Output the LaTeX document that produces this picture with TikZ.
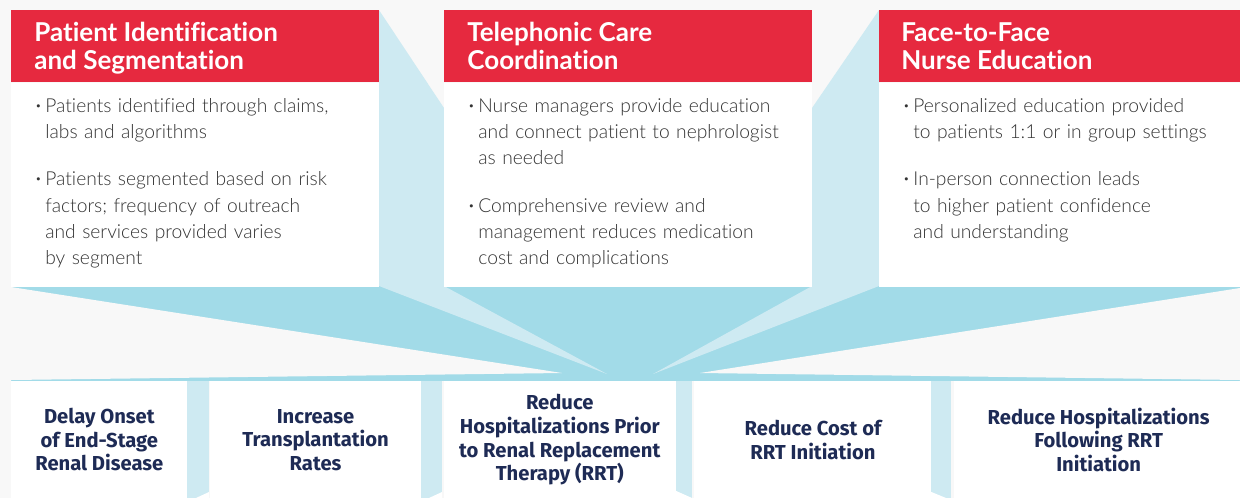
\documentclass[tikz,border=0pt]{standalone}
\usepackage{fontspec}
\usepackage{graphicx}
\setmainfont{Lato}[Ligatures=NoCommon]
\newfontfamily\bodyfont{Lato Light}[Ligatures=NoCommon]
\newfontfamily\goalfont{Fira Sans}
\usetikzlibrary{positioning}

\definecolor{pagebg}{HTML}{F8F8F8}
\definecolor{headred}{HTML}{E6293F}
\definecolor{fanblue}{HTML}{A2DBE8}
\definecolor{paleblue}{HTML}{CEEAF2}
\definecolor{navy}{HTML}{1E2B55}
\definecolor{bodygray}{HTML}{333333}

% one pixel of the layout grid
\newlength{\unitpx}
\setlength{\unitpx}{0.2mm}

% bullet item, wrapped lines kept under the text
\newcommand{\bul}[1]{\noindent
  \makebox[10\unitpx][l]{\raisebox{0.3ex}{\scalebox{0.55}{\textbullet}}}%
  \parbox[t]{330\unitpx}{#1\strut}\par\prevdepth=\dp\strutbox}

\begin{document}
\begin{tikzpicture}[x=\unitpx,y=-\unitpx,
    headbar/.style={fill=headred,anchor=north west,inner sep=0pt,
      minimum height=72\unitpx},
    headtext/.style={anchor=base west,inner sep=0pt,text=white,align=left,
      font=\fontsize{14.8pt}{15.4pt}\selectfont\bfseries},
    bodybox/.style={fill=white,inner sep=0pt,minimum height=204\unitpx},
    bullets/.style={anchor=base west,inner sep=0pt,text=bodygray,align=left,
      text width=345\unitpx,font=\bodyfont\fontsize{10.95pt}{15pt}\selectfont},
    goalbox/.style={fill=white,inner sep=0pt,minimum height=117\unitpx,
      text=navy,align=center,
      font=\goalfont\bfseries\fontsize{11.5pt}{13.4pt}\selectfont},
    fan/.style={fill=fanblue},
    pale/.style={fill=paleblue}]

  \useasboundingbox (0,0) rectangle (1240,498);
  \fill[pagebg] (0,0) rectangle (1240,498);

  % pale gaps between the top boxes
  \fill[pale] (379,10) -- (444,108) -- (444,286) -- (379,286) -- cycle;
  \fill[pale] (879,10) -- (812,108) -- (812,286) -- (879,286) -- cycle;

  % the fan that gathers the three boxes
  \fill[fan] (11,286) -- (1240,286) -- (1240,381) -- (11,381) -- cycle;
  \fill[pagebg] (11,287) -- (562,373) -- (11,380) -- cycle;
  \fill[pagebg] (1240,288) -- (700,373) -- (1240,380) -- cycle;
  \fill[pale] (379,286) -- (444,286) -- (607,374) -- cycle;
  \fill[pale] (812,286) -- (879,286) -- (653,374) -- cycle;

  % pale strips between the goals
  \foreach \xa/\xb in {187/209,420/442,674/692,929/951}
    \fill[pale] (\xa,381) rectangle (\xb,498);
  \fill[white] (209,492) -- (209,498) -- (196,498) -- cycle;
  \fill[white] (442,492) -- (442,498) -- (429,498) -- cycle;
  \fill[white] (674,490) -- (674,498) -- (692,498) -- cycle;
  \fill[white] (929,491) -- (929,498) -- (946,498) -- cycle;

  % top boxes: red bar, title, white body
  \node[headbar,minimum width=368\unitpx] (head1) at (11,10) {};
  \node[headbar,minimum width=368\unitpx] (head2) at (444,10) {};
  \node[headbar,minimum width=361\unitpx] (head3) at (879,10) {};

  \node[headtext] (title1) at (34,69) {Patient Identification\\and Segmentation};
  \node[headtext] (title2) at (467,69) {Telephonic Care\\Coordination};
  \node[headtext] (title3) at (901,69) {Face-to-Face\\Nurse Education};

  \node[bodybox,minimum width=368\unitpx,below=0pt of head1.south west,anchor=north west] (body1) {};
  \node[bodybox,minimum width=368\unitpx,below=0pt of head2.south west,anchor=north west] (body2) {};
  \node[bodybox,minimum width=361\unitpx,below=0pt of head3.south west,anchor=north west] (body3) {};

  \node[bullets] (list1) at (35,112) {%
    \bul{Patients identified through claims,\\labs and algorithms}\vspace{21\unitpx}
    \bul{Patients segmented based on risk\\factors; frequency of outreach\\and services provided varies\\by segment}};
  \node[bullets] (list2) at (468,112) {%
    \bul{Nurse managers provide education\\and connect patient to nephrologist\\as needed}\vspace{21\unitpx}
    \bul{Comprehensive review and\\management reduces medication\\cost and complications}};
  \node[bullets] (list3) at (903,112) {%
    \bul{Personalized education provided\\to patients 1:1 or in group settings}\vspace{21\unitpx}
    \bul{In-person connection leads\\to higher patient confidence\\and understanding}};

  % goals along the bottom
  \node[goalbox,minimum width=176\unitpx,anchor=north west] (goal1) at (11,381)
    {Delay Onset\\of End-Stage\\Renal Disease};
  \node[goalbox,minimum width=211\unitpx,right=22\unitpx of goal1] (goal2)
    {Increase\\Transplantation\\Rates};
  \node[goalbox,minimum width=232\unitpx,right=22\unitpx of goal2] (goal3)
    {Reduce\\Hospitalizations Prior\\to Renal Replacement\\Therapy (RRT)};
  \node[goalbox,minimum width=237\unitpx,right=18\unitpx of goal3] (goal4)
    {Reduce Cost of\\RRT Initiation};
  \node[goalbox,minimum width=289\unitpx,right=22\unitpx of goal4] (goal5)
    {Reduce Hospitalizations\\Following RRT\\Initiation};
\end{tikzpicture}
\end{document}
